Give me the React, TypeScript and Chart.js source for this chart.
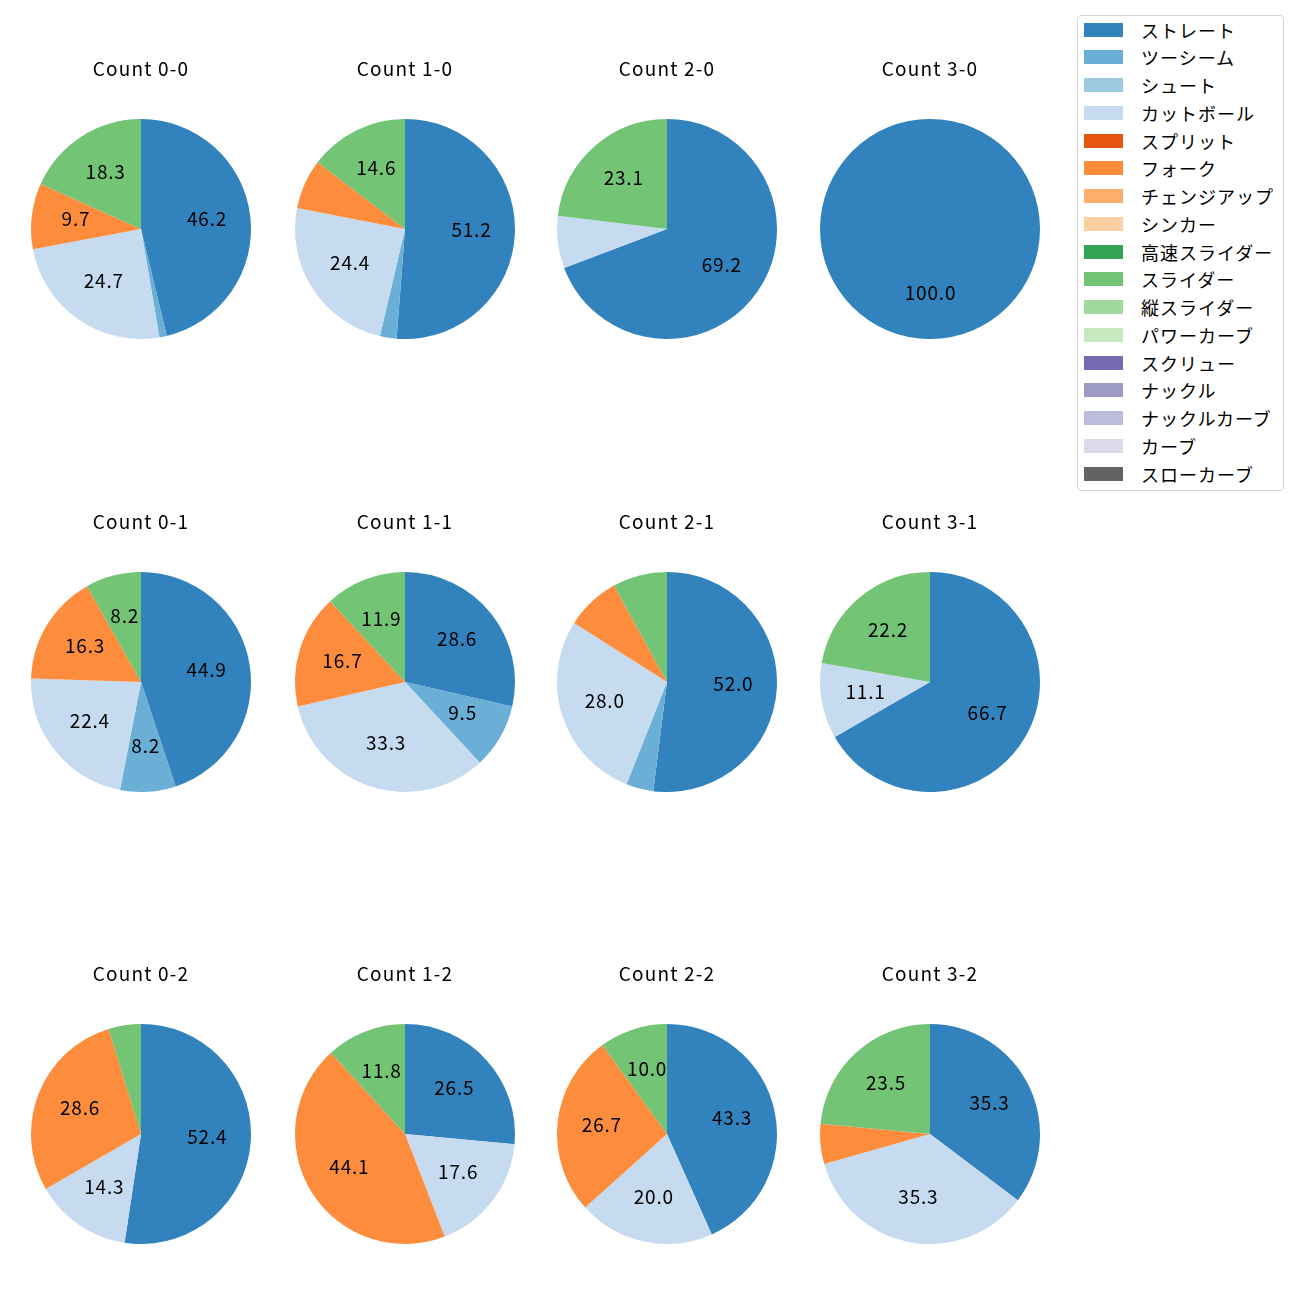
import React, { useEffect, useRef } from "react";
import { Chart, registerables } from "chart.js";

Chart.register(...registerables);

const pitchTypes = [
  "ストレート", "ツーシーム", "シュート", "カットボール", "スプリット", "フォーク",
  "チェンジアップ", "シンカー", "高速スライダー", "スライダー", "縦スライダー",
  "パワーカーブ", "スクリュー", "ナックル", "ナックルカーブ", "カーブ", "スローカーブ",
];

const pitchColors = [
  "#3182bd", "#6baed6", "#9ecae1", "#c6dbef", "#e6550d", "#fd8d3c",
  "#fdae6b", "#fdd0a2", "#31a354", "#74c476", "#a1d99b", "#c7e9c0",
  "#756bb1", "#9e9ac8", "#bcbddc", "#dadaeb", "#636363",
];

const countTitles = [
  "Count 0-0", "Count 1-0", "Count 2-0", "Count 3-0",
  "Count 0-1", "Count 1-1", "Count 2-1", "Count 3-1",
  "Count 0-2", "Count 1-2", "Count 2-2", "Count 3-2",
];

// pitch counts per pitch type (order of pitchTypes)
//                 St Tw Sh Ct Sp Fk Ch Si HS Sl VS PC Sc Kn KC Cv SC
const count00 = [43, 1, 0, 23, 0, 9, 0, 0, 0, 17, 0, 0, 0, 0, 0, 0, 0];
const count10 = [21, 1, 0, 10, 0, 3, 0, 0, 0, 6, 0, 0, 0, 0, 0, 0, 0];
const count20 = [9, 0, 0, 1, 0, 0, 0, 0, 0, 3, 0, 0, 0, 0, 0, 0, 0];
const count30 = [5, 0, 0, 0, 0, 0, 0, 0, 0, 0, 0, 0, 0, 0, 0, 0, 0];
const count01 = [22, 4, 0, 11, 0, 8, 0, 0, 0, 4, 0, 0, 0, 0, 0, 0, 0];
const count11 = [12, 4, 0, 14, 0, 7, 0, 0, 0, 5, 0, 0, 0, 0, 0, 0, 0];
const count21 = [13, 1, 0, 7, 0, 2, 0, 0, 0, 2, 0, 0, 0, 0, 0, 0, 0];
const count31 = [6, 0, 0, 1, 0, 0, 0, 0, 0, 2, 0, 0, 0, 0, 0, 0, 0];
const count02 = [11, 0, 0, 3, 0, 6, 0, 0, 0, 1, 0, 0, 0, 0, 0, 0, 0];
const count12 = [9, 0, 0, 6, 0, 15, 0, 0, 0, 4, 0, 0, 0, 0, 0, 0, 0];
const count22 = [13, 0, 0, 6, 0, 8, 0, 0, 0, 3, 0, 0, 0, 0, 0, 0, 0];
const count32 = [6, 0, 0, 6, 0, 1, 0, 0, 0, 4, 0, 0, 0, 0, 0, 0, 0];

const allCounts = [
  count00, count10, count20, count30,
  count01, count11, count21, count31,
  count02, count12, count22, count32,
];

const colCenters = [141, 405, 667, 930];
const rowCenters = [229, 682, 1134];
const RADIUS = 110;
const FONT = "'Noto Sans CJK JP', 'Noto Sans', sans-serif";

const spacingPlugin = {
  id: "letterSpacing",
  beforeDraw(chart: any) {
    try {
      chart.ctx.letterSpacing = "1.2px";
    } catch (e) {}
  },
};

const pctLabelPlugin = {
  id: "pctLabels",
  afterDatasetsDraw(chart: any) {
    const ctx = chart.ctx;
    const meta = chart.getDatasetMeta(0);
    const data = chart.data.datasets[0].data as number[];
    const total = data.reduce((a, b) => a + b, 0);
    ctx.save();
    ctx.fillStyle = "#000";
    ctx.font = `19px ${FONT}`;
    try {
      ctx.letterSpacing = "0.8px";
    } catch (e) {}
    ctx.textAlign = "center";
    ctx.textBaseline = "middle";
    meta.data.forEach((arc: any, i: number) => {
      const pct = (data[i] / total) * 100;
      if (!(pct > 8.05)) return;
      const mid = (arc.startAngle + arc.endAngle) / 2;
      const r = arc.outerRadius * 0.6;
      ctx.fillText(pct.toFixed(1), arc.x + Math.cos(mid) * r + 0.5, arc.y + Math.sin(mid) * r - 2);
    });
    ctx.restore();
  },
};

const CW = 240;
const CH = 350;
const TOP_OFF = 200; // pie centre from canvas top

function PieCell({ idx }: { idx: number }) {
  const ref = useRef<HTMLCanvasElement>(null);
  useEffect(() => {
    if (!ref.current) return;
    const chart = new Chart(ref.current, {
      type: "pie",
      data: {
        labels: pitchTypes,
        datasets: [
          {
            data: allCounts[idx],
            backgroundColor: pitchColors,
            borderWidth: 0,
          },
        ],
      },
      options: {
        responsive: false,
        animation: false,
        events: [],
        layout: { padding: { left: (CW - 2 * RADIUS) / 2, right: (CW - 2 * RADIUS) / 2, top: 0, bottom: CH - TOP_OFF - RADIUS } },
        plugins: {
          legend: { display: false },
          tooltip: { enabled: false },
          title: {
            display: true,
            text: countTitles[idx],
            color: "#000",
            font: { family: FONT, size: 19, weight: "normal", lineHeight: 1.2 },
            padding: { top: 28, bottom: TOP_OFF - RADIUS - 28 - 19 * 1.2 },
          },
        },
      },
      plugins: [spacingPlugin, pctLabelPlugin],
    });
    return () => chart.destroy();
  }, [idx]);
  const col = idx % 4;
  const row = Math.floor(idx / 4);
  return (
    <canvas
      ref={ref}
      width={CW}
      height={CH}
      style={{
        position: "absolute",
        left: colCenters[col] - CW / 2,
        top: rowCenters[row] - TOP_OFF,
        width: CW,
        height: CH,
      }}
    />
  );
}

function Legend() {
  return (
    <div
      style={{
        position: "absolute",
        left: 1077,
        top: 15,
        width: 207,
        height: 476,
        border: "1px solid #d6d6d6",
        borderRadius: 4,
        boxSizing: "border-box",
        background: "#fff",
        fontFamily: FONT,
        fontSize: 18,
        letterSpacing: 1,
        color: "#000",
      }}
    >
      {pitchTypes.map((name, i) => (
        <div
          key={name}
          style={{
            position: "absolute",
            left: 0,
            top: 13.5 + i * 27.75 - 14,
            height: 28,
            display: "flex",
            alignItems: "center",
            whiteSpace: "nowrap",
          }}
        >
          <span
            style={{
              display: "inline-block",
              width: 39,
              height: 14,
              marginLeft: 6,
              background: pitchColors[i],
            }}
          />
          <span style={{ marginLeft: 18, lineHeight: "28px" }}>{name}</span>
        </div>
      ))}
    </div>
  );
}

export default function App() {
  return (
    <div style={{ position: "relative", width: 1300, height: 1300, margin: -8, background: "#fff" }}>
      {countTitles.map((_, i) => (
        <PieCell key={i} idx={i} />
      ))}
      <Legend />
    </div>
  );
}
